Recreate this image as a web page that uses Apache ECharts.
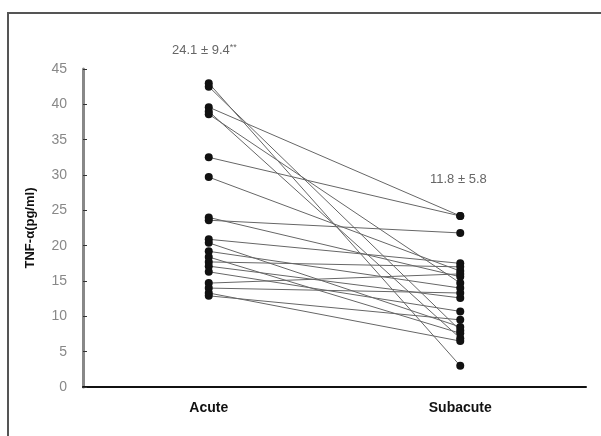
<!DOCTYPE html>
<html>
<head>
<meta charset="utf-8">
<script src="https://cdn.jsdelivr.net/npm/echarts@6/dist/echarts.min.js"></script>
<style>
  html, body { margin: 0; padding: 0; background: #fff; }
  #chart { width: 601px; height: 436px; }
</style>
</head>
<body>
<div id="chart"></div>
<script>
// paired measurements, one entry per patient
const categories = ['Acute', 'Subacute'];
const acute    = [43.0, 42.5, 39.6, 39.0, 38.6, 32.5, 29.7, 24.0, 23.6, 20.9, 20.4, 19.2, 18.4, 17.7, 17.1, 16.3, 14.7, 14.0, 13.3, 12.9];
const subacute = [3.0, 8.0, 24.2, 6.9, 14.7, 24.2, 16.4, 15.6, 21.8, 17.5, 8.5, 14.0, 7.6, 17.0, 12.6, 10.7, 16.0, 13.3, 6.5, 9.5];
const yTicks = [0, 45, 5];
const acuteLabel = '24.1 ± 9.4';
const subacuteLabel = '11.8 ± 5.8';

const chart = echarts.init(document.getElementById('chart'));

const series = acute.map((a, i) => ({
  type: 'line',
  data: [a, subacute[i]],
  symbol: 'circle',
  symbolSize: 8,
  itemStyle: { color: '#111' },
  lineStyle: { color: '#666', width: 1 },
  silent: true,
  animation: false
}));

chart.setOption({
  animation: false,
  grid: { left: 83, right: 15, top: 69, bottom: 49 },
  xAxis: {
    type: 'category',
    data: categories,
    boundaryGap: true,
    axisLine: { lineStyle: { color: '#111', width: 2 } },
    axisTick: { inside: true, length: 5, lineStyle: { color: '#111' } },
    axisLabel: {
      color: '#111', fontWeight: 'bold', fontSize: 14,
      fontFamily: 'Liberation Sans', margin: 14
    },
    splitLine: { show: false }
  },
  yAxis: {
    type: 'value',
    min: yTicks[0], max: yTicks[1], interval: yTicks[2],
    name: 'TNF-α(pg/ml)',
    nameLocation: 'middle',
    nameGap: 46,
    nameTextStyle: { color: '#111', fontWeight: 'bold', fontSize: 13, fontFamily: 'Liberation Sans' },
    axisLine: { show: true, lineStyle: { color: '#888', width: 3 } },
    axisTick: { show: true, inside: true, length: 4, lineStyle: { color: '#333' } },
    axisLabel: { color: '#888', fontSize: 14, fontFamily: 'Liberation Sans', margin: 16 },
    splitLine: { show: false }
  },
  series: series,
  graphic: [
    {
      type: 'rect',
      shape: { x: 8, y: 13, width: 600, height: 430 },
      style: { fill: 'none', stroke: '#555', lineWidth: 2 },
      silent: true
    },
    {
      type: 'text',
      left: 172, top: 43,
      style: {
        text: '{m|' + acuteLabel + '}{s|**}',
        rich: {
          m: { fill: '#666', fontSize: 13, fontFamily: 'Liberation Sans' },
          s: { fill: '#666', fontSize: 9, fontFamily: 'Liberation Sans', verticalAlign: 'top', padding: [0, 0, 6, 0] }
        }
      }
    },
    {
      type: 'text',
      left: 430, top: 173,
      style: {
        text: subacuteLabel,
        fill: '#666', fontSize: 13, fontFamily: 'Liberation Sans'
      }
    }
  ]
});
</script>
</body>
</html>
